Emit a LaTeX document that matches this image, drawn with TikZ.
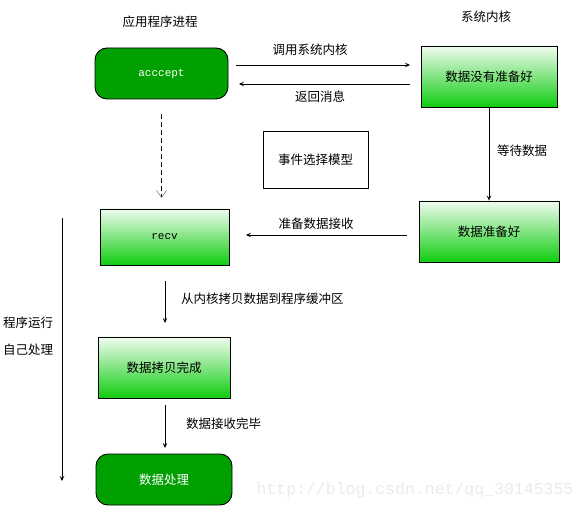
\documentclass[tikz,border=0pt]{standalone}
\usepackage{fontspec}
\setmainfont{Liberation Sans}
\setmonofont{Liberation Mono}
\newfontfamily\cjk{Noto Sans CJK SC}
\usetikzlibrary{arrows.meta}
\definecolor{dkgreen}{RGB}{0,160,0}
\definecolor{grbot}{RGB}{16,204,16}
\definecolor{grtop}{RGB}{240,252,240}
\definecolor{wmark}{RGB}{230,238,230}
\begin{document}
\begin{tikzpicture}[x=1pt,y=-1pt,
  txt/.style={font=\cjk\fontsize{12.5}{14}\selectfont, inner sep=0pt},
  roundbox/.style={draw=black, line width=0.9pt, fill=dkgreen, rounded corners=12pt, text=white, font=\cjk\fontsize{12.5}{14}\selectfont},
  gradbox/.style={draw=black, line width=0.9pt, top color=grtop, bottom color=grbot, font=\cjk\fontsize{12.5}{14}\selectfont},
  plainbox/.style={draw=black, line width=0.9pt, fill=white, font=\cjk\fontsize{12.5}{14}\selectfont},
  arr/.style={line width=0.8pt, -{Stealth[length=5pt,width=4.5pt,inset=2pt]}},
  darr/.style={line width=0.8pt, dashed, dash pattern=on 5pt off 3pt, -{Straight Barb[length=7pt,width=10pt,line width=0.6pt,color=gray]}}
]
\useasboundingbox (0,0) rectangle (586,510);
\fill[white] (0,0) rectangle (586,510);

% watermark
\node[font=\ttfamily\fontsize{16.5}{18}\selectfont, text=wmark, inner sep=0pt] (wm) at (415,490) {http://blog.csdn.net/qq\_30145355};

% titles
\node[txt] (t1) at (160,22) {应用程序进程};
\node[txt] (t2) at (486,17) {系统内核};

% nodes
\node[roundbox, minimum width=133pt, minimum height=51pt, font=\ttfamily\fontsize{11}{13}\selectfont] (acc) at (161.5,73.5) {acccept};
\node[gradbox, minimum width=136pt, minimum height=61pt] (k1) at (489,76.5) {数据没有准备好};
\node[plainbox, minimum width=105pt, minimum height=57pt] (evt) at (315.5,159.5) {事件选择模型};
\node[gradbox, minimum width=140pt, minimum height=61pt] (k2) at (489,231.5) {数据准备好};
\node[gradbox, minimum width=129pt, minimum height=56pt, font=\ttfamily\fontsize{11}{13}\selectfont] (recv) at (164.5,237) {recv};
\node[gradbox, minimum width=132pt, minimum height=61pt] (copy) at (164,367.5) {数据拷贝完成};
\node[roundbox, minimum width=136pt, minimum height=51pt] (proc) at (164,479.5) {数据处理};

% connector coordinates
\coordinate (c1a) at (236,65);
\coordinate (c1b) at (410,65);
\coordinate (c2a) at (410,84);
\coordinate (c2b) at (239,84);
\coordinate (c3a) at (161.5,114);
\coordinate (c3b) at (161.5,198);
\coordinate (c5a) at (407,235);
\coordinate (c5b) at (246,235);
\coordinate (c6a) at (165,281);
\coordinate (c6b) at (165,323);
\coordinate (c7a) at (165,405);
\coordinate (c7b) at (165,448);
\coordinate (c8a) at (62,218);
\coordinate (c8b) at (62,481);

\draw[arr] (c1a) -- (c1b);
\node[txt] (l1) at (310,50) {调用系统内核};
\draw[arr] (c2a) -- (c2b);
\node[txt] (l2) at (320,97) {返回消息};
\draw[darr] (c3a) -- (c3b);
\draw[arr] (k1.south) -- (k2.north);
\node[txt] (l4) at (522,151) {等待数据};
\draw[arr] (c5a) -- (c5b);
\node[txt] (l5) at (316,224) {准备数据接收};
\draw[arr] (c6a) -- (c6b);
\node[txt, anchor=west] (l6) at (181,299) {从内核拷贝数据到程序缓冲区};
\draw[arr] (c7a) -- (c7b);
\node[txt, anchor=west] (l7) at (186,424) {数据接收完毕};
\draw[arr] (c8a) -- (c8b);
\node[txt] (l8) at (28,323) {程序运行};
\node[txt] (l9) at (28,350) {自己处理};
\end{tikzpicture}
\end{document}
